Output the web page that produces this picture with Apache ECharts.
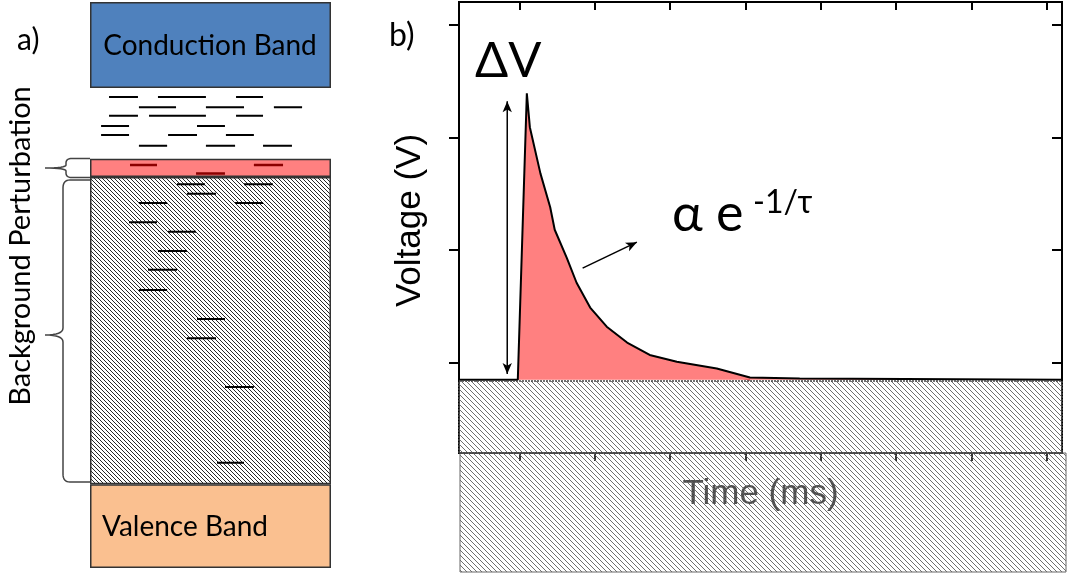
<!DOCTYPE html>
<html><head><meta charset="utf-8">
<script src="https://cdn.jsdelivr.net/npm/echarts@6/dist/echarts.min.js"></script>
<style>html,body{margin:0;padding:0;background:#fff}#c{width:1067px;height:576px}</style>
</head><body><div id="c"></div>
<script>
// ---------- Panel b: voltage transient ----------
const timeTicks = [0, 1, 2, 3, 4, 5, 6, 7];
const voltTicks = [0, 1, 2, 3];
const signalTime = [-0.8, -0.02, 0.10, 0.14, 0.28, 0.41, 0.47, 0.63, 0.76, 0.94, 1.16, 1.43, 1.73, 2.09, 2.62, 3.06, 3.72, 7.2];
const signalVolt = [-0.15, -0.15, 2.39, 2.09, 1.68, 1.38, 1.18, 0.93, 0.71, 0.49, 0.32, 0.18, 0.07, 0.01, -0.05, -0.13, -0.14, -0.15];
const fitTime = [0.94, 1.16, 1.43, 1.73, 2.09, 2.62, 3.06];
const fitVolt = [0.47, 0.29, 0.15, 0.05, -0.02, -0.08, -0.15];
const baselineVolt = -0.15;
const deltaVArrow = [[-0.16, 2.32], [-0.16, -0.10]];
const fitArrow = [[0.84, 0.84], [1.56, 1.07]];

// ---------- Panel a: band diagram ----------
const bandNames = ['Valence', 'Background', 'Perturbation', 'Gap', 'Conduction'];
const bandEdges = [0, 14.8, 69.1, 72.3, 84.8, 100];   // energy edges, bottom to top
// [energy, xStart, xEnd]
const shallowLevels = [
  [83.2, 0.79, 1.99], [83.2, 2.82, 4.81], [83.2, 6.06, 7.18],
  [81.4, 2.03, 3.57], [81.4, 4.81, 6.39], [81.4, 7.63, 8.80],
  [79.9, 0.79, 1.99], [79.9, 2.45, 4.81], [79.9, 6.06, 7.18],
  [78.1, 0.46, 1.62], [78.1, 4.44, 5.60],
  [76.5, 0.46, 1.62], [76.5, 3.24, 4.44], [76.5, 5.64, 6.80],
  [74.6, 2.03, 3.20], [74.6, 4.81, 6.02], [74.6, 7.18, 8.38]
];
const perturbLevels = [
  [71.2, 1.66, 2.78], [71.2, 6.80, 8.01], [69.7, 4.40, 5.60]
];
const deepLevels = [
  [67.8, 3.61, 4.77], [67.8, 6.39, 7.59],
  [66.1, 4.02, 5.23],
  [64.5, 2.03, 3.20], [64.5, 6.02, 7.18],
  [61.1, 1.62, 2.78],
  [59.4, 3.24, 4.40],
  [56.0, 2.82, 4.02],
  [52.7, 2.41, 3.61],
  [49.1, 2.03, 3.20],
  [44.0, 4.44, 5.60],
  [40.6, 4.02, 5.23],
  [32.0, 5.60, 6.80],
  [18.6, 5.27, 6.39]
];

function hatch(size, color, bg, w) {
  const c = document.createElement('canvas');
  c.width = c.height = size;
  const g = c.getContext('2d');
  if (bg) { g.fillStyle = bg; g.fillRect(0, 0, size, size); }
  g.strokeStyle = color; g.lineWidth = w;
  g.beginPath();
  for (let k = -1; k <= 1; k++) { g.moveTo(k * size, 0); g.lineTo(k * size + size, size); }
  g.stroke();
  return { image: c, repeat: 'repeat' };
}
const hatchA = hatch(4, '#000', '#fff', 0.85);
const hatchB = hatch(5, 'rgba(95,95,95,0.9)', 'rgba(255,255,255,0.2)', 1);
const bandFills = ['#FAC090', hatchA, '#FF8080', 'rgba(0,0,0,0)', '#4F81BD'];

function levelData(arr) {
  const out = [];
  arr.forEach(l => { out.push([l[1], l[0]], [l[2], l[0]], [l[2], '-']); });
  return out;
}

// brace outline sampler (quadratic segments -> polyline points)
function bracePoints(segs) {
  const pts = [[segs[0][1], segs[0][2]]];
  for (let i = 1; i < segs.length; i++) {
    const s = segs[i];
    if (s[0] === 'L') pts.push([s[1], s[2]]);
    else {
      const p0 = pts[pts.length - 1];
      for (let k = 1; k <= 8; k++) {
        const t = k / 8, u = 1 - t;
        pts.push([u * u * p0[0] + 2 * u * t * s[1] + t * t * s[3], u * u * p0[1] + 2 * u * t * s[2] + t * t * s[4]]);
      }
    }
  }
  return pts;
}

const CAL = 'Lato, "Open Sans", sans-serif';
const ARIAL = '"Liberation Sans", Arial, sans-serif';

const bandSeries = bandNames.map((nm, i) => ({
  type: 'bar', name: nm, xAxisIndex: 2, yAxisIndex: 2, stack: 'bands',
  barWidth: '100%', z: 2, silent: true,
  data: [bandEdges[i + 1] - bandEdges[i]],
  itemStyle: {
    color: bandFills[i],
    borderColor: nm === 'Gap' ? 'rgba(0,0,0,0)' : '#333',
    borderWidth: nm === 'Gap' ? 0 : 1.5
  }
}));

const levelSeries = [
  [shallowLevels, '#000', 2], [perturbLevels, '#8B0000', 2.5], [deepLevels, '#000', 2]
].map(([arr, col, w]) => ({
  type: 'line', xAxisIndex: 3, yAxisIndex: 2, z: 5, silent: true,
  data: levelData(arr), showSymbol: false, connectNulls: false,
  lineStyle: { color: col, width: w }
}));

function arrowSeries(pts, rot, withStart) {
  return {
    type: 'line', xAxisIndex: 0, yAxisIndex: 0, z: 6, silent: true,
    showSymbol: true, symbolSize: [7, 11],
    itemStyle: { color: '#000' },
    lineStyle: { color: '#000', width: 1.5 },
    data: [
      { value: pts[0], symbol: withStart ? 'arrow' : 'none', symbolRotate: rot[0] },
      { value: pts[1], symbol: 'arrow', symbolRotate: rot[1] }
    ]
  };
}

function tickCfg(inside, len, useCustom, vals) {
  const t = { show: true, inside: inside, length: len, lineStyle: { color: '#000', width: 2 } };
  if (useCustom) t.customValues = vals;
  return t;
}
const noLine = { show: false, onZero: false };

function buildOption(useCustom) {
  return {
  animation: false,
  backgroundColor: '#fff',
  grid: [
    { left: 459, right: 5, top: 2, bottom: 123, show: true, borderColor: '#000', borderWidth: 2, backgroundColor: 'transparent' },
    { left: 90, right: 736, top: 2, bottom: 8 }
  ],
  xAxis: [
    { type: 'value', gridIndex: 0, min: -0.8, max: 7.2, position: 'bottom',
      axisLine: noLine, splitLine: { show: false },
      axisTick: tickCfg(false, 8, useCustom, timeTicks),
      axisLabel: { show: false },
      name: 'Time (ms)', nameLocation: 'middle', nameGap: 24,
      nameTextStyle: { fontFamily: ARIAL, fontSize: 35, color: '#222' } },
    { type: 'value', gridIndex: 0, min: -0.8, max: 7.2, position: 'top',
      axisLine: noLine, splitLine: { show: false },
      axisTick: tickCfg(true, 8, useCustom, timeTicks),
      axisLabel: { show: false } },
    { type: 'category', gridIndex: 1, data: ['band'], show: false },
    { type: 'value', gridIndex: 1, min: 0, max: 10, show: false }
  ],
  yAxis: [
    { type: 'value', gridIndex: 0, min: -0.8, max: 3.2, position: 'left',
      axisLine: noLine, splitLine: { show: false },
      axisTick: tickCfg(false, 10, useCustom, voltTicks),
      axisLabel: { show: false },
      name: 'Voltage (V)', nameLocation: 'middle', nameGap: 31,
      nameTextStyle: { fontFamily: ARIAL, fontSize: 35, color: '#000', padding: [0, 0, 0, 14] } },
    { type: 'value', gridIndex: 0, min: -0.8, max: 3.2, position: 'right',
      axisLine: noLine, splitLine: { show: false },
      axisTick: tickCfg(true, 10, useCustom, voltTicks),
      axisLabel: { show: false } },
    { type: 'value', gridIndex: 1, min: 0, max: 100, show: false }
  ],
  series: [
    { type: 'line', xAxisIndex: 0, yAxisIndex: 0, name: 'fit',
      data: fitTime.map((t, i) => [t, fitVolt[i]]), showSymbol: false, z: 2,
      lineStyle: { color: '#8B0000', width: 2 } },
    { type: 'line', xAxisIndex: 0, yAxisIndex: 0, name: 'signal',
      data: signalTime.map((t, i) => [t, signalVolt[i]]), showSymbol: false, z: 3,
      lineStyle: { color: '#000', width: 2 },
      areaStyle: { color: '#FF8080', opacity: 1, origin: baselineVolt } },
    arrowSeries(deltaVArrow, [0, 180], true),
    arrowSeries(fitArrow, [0, -64], false),
    ...bandSeries,
    ...levelSeries
  ],
  graphic: [
    { type: 'rect', z: 100, shape: { x: 460, y: 453, width: 606, height: 119 },
      style: { fill: hatchB, stroke: '#666', lineWidth: 1 } },
    { type: 'rect', z: 101, shape: { x: 459, y: 381, width: 603, height: 72 },
      style: { fill: hatchB, stroke: '#444', lineWidth: 1.5, lineDash: [2, 1] } },
    { type: 'text', z: 110, x: 17, y: 40, style: { text: 'a)', fontFamily: CAL, fontSize: 30, fill: '#000', verticalAlign: 'middle' } },
    { type: 'text', z: 110, x: 389, y: 36, style: { text: 'b)', fontFamily: CAL, fontSize: 32, fill: '#000', verticalAlign: 'middle' } },
    { type: 'text', z: 110, x: 475, y: 61, style: { text: 'ΔV', fontFamily: CAL, fontSize: 49, fill: '#000', verticalAlign: 'middle' } },
    { type: 'text', z: 110, x: 672, y: 214, style: { text: 'α e', fontFamily: CAL, fontSize: 52, fill: '#000', verticalAlign: 'middle' } },
    { type: 'text', z: 110, x: 753, y: 203, style: { text: '-1/τ', fontFamily: CAL, fontSize: 32, fill: '#000', verticalAlign: 'middle' } },
    { type: 'text', z: 110, x: 210, y: 46, style: { text: 'Conduction Band', fontFamily: CAL, fontSize: 28, fill: '#000', align: 'center', verticalAlign: 'middle' } },
    { type: 'text', z: 110, x: 102, y: 527, style: { text: 'Valence Band', fontFamily: CAL, fontSize: 28, fill: '#000', align: 'left', verticalAlign: 'middle' } },
    { type: 'text', z: 110, x: 21, y: 246, rotation: Math.PI / 2,
      style: { text: 'Background Perturbation', fontFamily: CAL, fontSize: 29, fill: '#000', align: 'center', verticalAlign: 'middle' } },
    { type: 'polyline', z: 110, shape: { points: bracePoints([['M', 90, 158.5], ['L', 72, 158.5], ['Q', 66, 158.5, 66, 163], ['L', 66, 165], ['Q', 66, 168, 45, 168], ['Q', 66, 168, 66, 171], ['L', 66, 173], ['Q', 66, 177.5, 72, 177.5], ['L', 90, 177.5]]) },
      style: { fill: 'none', stroke: '#444', lineWidth: 1.5 } },
    { type: 'polyline', z: 110, shape: { points: bracePoints([['M', 90, 180], ['L', 70, 180], ['Q', 63, 180, 63, 188], ['L', 63, 328], ['Q', 63, 335, 45, 335], ['Q', 63, 335, 63, 342], ['L', 63, 474], ['Q', 63, 482, 70, 482], ['L', 90, 482]]) },
      style: { fill: 'none', stroke: '#444', lineWidth: 1.5 } }
  ]
  };
}

const chart = echarts.init(document.getElementById('c'), null, { renderer: 'canvas' });
try {
  chart.setOption(buildOption(true), true);
} catch (err) {
  chart.setOption(buildOption(false), true);
}
</script></body></html>
